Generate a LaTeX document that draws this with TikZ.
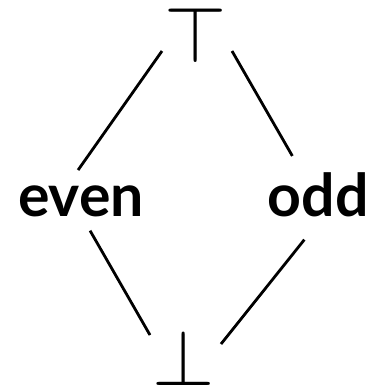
\documentclass[tikz,border=0pt]{standalone}
\usepackage{fontspec}
\usepackage{graphicx}
\setmainfont{Lato}
\usetikzlibrary{calc}
\tikzset{
  lbl/.style={inner sep=0pt, font=\fontsize{59}{62}\selectfont\bfseries},
  sym/.style={inner sep=0pt},
  edge/.style={line width=2.8pt}
}
\begin{document}
\begin{tikzpicture}[x=1pt,y=-1pt]
\useasboundingbox (0,0) rectangle (373,392);
\node[lbl, anchor=base west] (even) at (18,216) {even};
\node[lbl, anchor=base east] (odd) at (369,216) {odd};
\node[sym, anchor=south] (top) at (196,63) {\scalebox{8}{$\top$}};
\node[sym, anchor=south] (bot) at (184,386) {\scalebox{8}{$\bot$}};
\draw[edge] ($(top.south)+(-34,-12)$) -- ($(even.north)+(-3,-15)$);
\draw[edge] ($(top.south)+(36,-12)$) -- ($(odd.north)+(-26,-16)$);
\draw[edge] ($(even.south)+(9,14)$) -- ($(bot.north)+(-34,5)$);
\draw[edge] ($(odd.south)+(-14,23)$) -- ($(bot.north)+(37,14)$);
\end{tikzpicture}
\end{document}
